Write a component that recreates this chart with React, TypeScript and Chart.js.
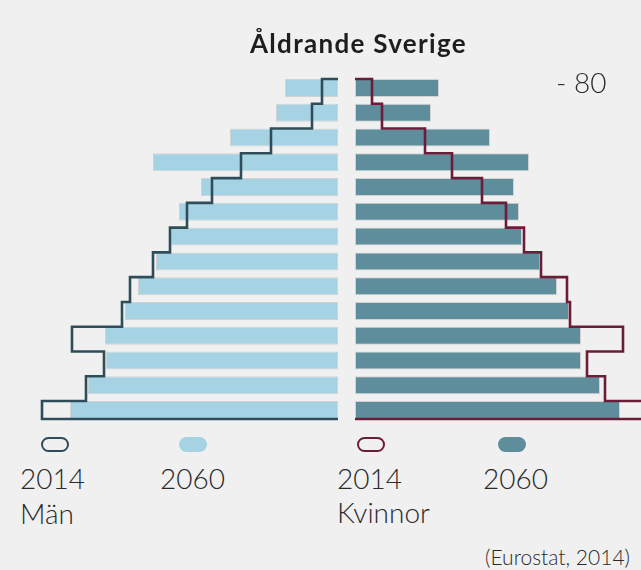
import React, { useEffect, useRef } from "react";
import { Chart, registerables } from "chart.js";

Chart.register(...registerables);

// Age groups, top (oldest) to bottom
const AGE_GROUPS = [
  "80+", "75–79", "70–74", "65–69", "60–64", "55–59", "50–54",
  "45–49", "40–44", "35–39", "30–34", "25–29", "20–24", "15–19",
];

// Men (Män)
const MEN_2014 = [16, 26, 67, 97, 126, 151, 168, 185, 208, 216, 266, 234, 252, 296];
const MEN_2060 = [53, 62, 108, 185, 137, 159, 167, 182, 200, 213, 233, 232, 250, 268];

// Women (Kvinnor)
const WOMEN_2014 = [17, 27, 70, 97, 127, 151, 169, 186, 212, 215, 268, 232, 250, 295];
const WOMEN_2060 = [84, 76, 135, 174, 159, 164, 167, 185, 202, 214, 226, 226, 245, 265];

const TITLE = "Åldrande Sverige";
const TOP_LABEL = "- 80";
const YEAR_2014 = "2014";
const YEAR_2060 = "2060";
const MEN_LABEL = "Män";
const WOMEN_LABEL = "Kvinnor";
const SOURCE = "(Eurostat, 2014)";

const BG = "#f0f0f0";
const MEN_FILL = "#a6d3e4";
const MEN_LINE = "#2e4d58";
const WOMEN_FILL = "#5e8d9c";
const WOMEN_LINE = "#6b1c38";
const TEXT = "#2b2b2b";
const FONT = "Lato, 'Open Sans', sans-serif";

const HALF_BAR = 0.363;

function outline(values: number[]) {
  const last = values.length - 1;
  const pts: { x: number; y: number }[] = [{ x: 0, y: -HALF_BAR }];
  values.forEach((v, i) => {
    pts.push({ x: v, y: i - HALF_BAR });
    pts.push({ x: v, y: i === last ? i + HALF_BAR : i + 1 - HALF_BAR });
  });
  pts.push({ x: 0, y: last + HALF_BAR });
  return pts;
}

function Side(props: {
  v2060: number[];
  v2014: number[];
  fill: string;
  line: string;
  reverse: boolean;
  xMax: number;
  left: number;
  width: number;
}) {
  const ref = useRef<HTMLCanvasElement>(null);
  useEffect(() => {
    if (!ref.current) return;
    const chart = new Chart(ref.current, {
      type: "bar",
      data: {
        labels: AGE_GROUPS,
        datasets: [
          {
            type: "line",
            data: outline(props.v2014) as any,
            xAxisID: "x",
            yAxisID: "y2",
            borderColor: props.line,
            borderWidth: 2.6,
            pointRadius: 0,
            fill: false,
            tension: 0,
            borderJoinStyle: "miter",
            borderCapStyle: "butt",
            order: 0,
          } as any,
          {
            type: "bar",
            data: props.v2060,
            xAxisID: "x",
            yAxisID: "y",
            backgroundColor: props.fill,
            borderColor: "rgba(0,0,0,0.12)",
            borderWidth: 1,
            borderSkipped: false,
            grouped: false,
            barPercentage: 0.727,
            categoryPercentage: 1,
            order: 1,
          } as any,
        ],
      },
      options: {
        indexAxis: "y",
        animation: false,
        responsive: false,
        maintainAspectRatio: false,
        devicePixelRatio: 1,
        events: [],
        layout: { padding: { top: 75.6, bottom: 7.6, left: 0, right: 0 } },
        plugins: { legend: { display: false }, tooltip: { enabled: false }, title: { display: false } },
        scales: {
          x: { type: "linear", min: 0, max: props.xMax, reverse: props.reverse, display: false, offset: false },
          y: { type: "category", offset: true, display: false },
          y2: { type: "linear", min: -0.5, max: 13.5, reverse: true, display: false, offset: false },
        },
      } as any,
    });
    return () => chart.destroy();
  }, []);
  return (
    <canvas
      ref={ref}
      width={props.width}
      height={430}
      style={{ position: "absolute", left: props.left, top: 0, width: props.width, height: 430 }}
    />
  );
}

function Marker(props: { left: number; color: string; filled: boolean }) {
  return (
    <div
      style={{
        position: "absolute",
        left: props.left,
        top: 437,
        width: 28,
        height: 15,
        boxSizing: "border-box",
        borderRadius: 8,
        background: props.filled ? props.color : "transparent",
        border: props.filled ? "none" : `2.5px solid ${props.color}`,
      }}
    />
  );
}

function Label(props: { left: number; top: number; size: number; text: string; weight?: number; right?: number }) {
  const style: any = {
    position: "absolute",
    top: props.top,
    fontSize: props.size,
    lineHeight: 1,
    fontFamily: FONT,
    fontWeight: props.weight ?? 300,
    color: TEXT,
    whiteSpace: "nowrap",
  };
  if (props.right !== undefined) style.right = props.right;
  else style.left = props.left;
  return <div style={style}>{props.text}</div>;
}

export default function App() {
  return (
    <div
      style={{
        position: "fixed",
        left: 0,
        top: 0,
        width: 641,
        height: 570,
        background: BG,
        overflow: "hidden",
      }}
    >
      <Side v2060={MEN_2060} v2014={MEN_2014} fill={MEN_FILL} line={MEN_LINE} reverse={true} xMax={338} left={0} width={338} />
      <Side v2060={WOMEN_2060} v2014={WOMEN_2014} fill={WOMEN_FILL} line={WOMEN_LINE} reverse={false} xMax={286} left={355} width={286} />

      <div
        style={{
          position: "absolute",
          left: 250,
          top: 30,
          fontSize: 26,
          lineHeight: 1,
          fontFamily: FONT,
          fontWeight: 700,
          letterSpacing: 1.3,
          color: "#1e1e1e",
          whiteSpace: "nowrap",
        }}
      >
        {TITLE}
      </div>
      <Label left={556} top={68} size={28} text={TOP_LABEL} />

      <Marker left={41} color={MEN_LINE} filled={false} />
      <Marker left={179} color={MEN_FILL} filled={true} />
      <Marker left={357} color={WOMEN_LINE} filled={false} />
      <Marker left={498} color={WOMEN_FILL} filled={true} />

      <Label left={20} top={464} size={28} text={YEAR_2014} />
      <Label left={160} top={464} size={28} text={YEAR_2060} />
      <Label left={20} top={499} size={28} text={MEN_LABEL} />
      <Label left={337} top={464} size={28} text={YEAR_2014} />
      <Label left={483} top={464} size={28} text={YEAR_2060} />
      <Label left={337} top={498} size={28} text={WOMEN_LABEL} />
      <Label left={0} right={11} top={546} size={21} text={SOURCE} />
    </div>
  );
}
